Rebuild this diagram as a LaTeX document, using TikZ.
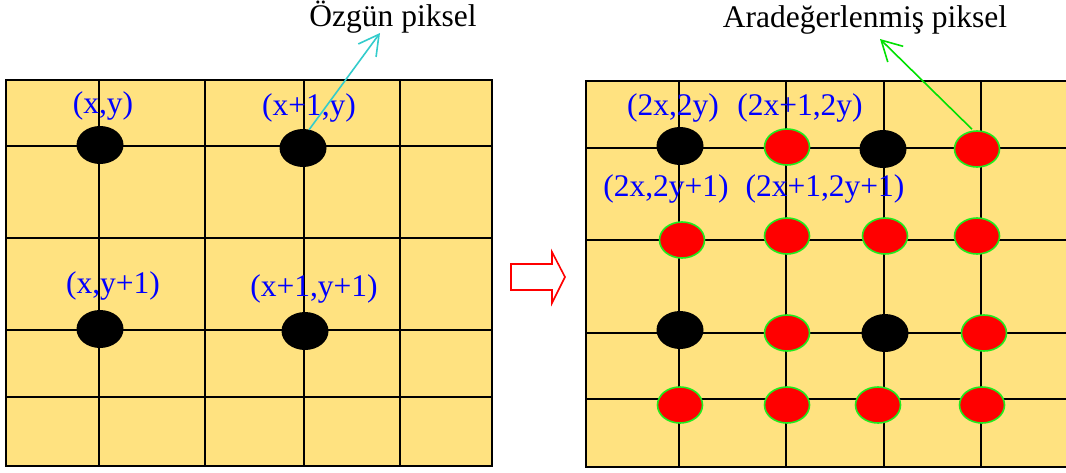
\documentclass[tikz,border=0pt]{standalone}
\usepackage{fontspec}
\setmainfont{Liberation Serif}
\usetikzlibrary{arrows.meta,shapes.geometric}
\definecolor{cellyellow}{RGB}{255,226,128}
\definecolor{lblblue}{RGB}{0,0,255}
\definecolor{cyanline}{RGB}{51,204,204}
\definecolor{greenline}{RGB}{0,225,0}
\definecolor{greenrim}{RGB}{30,235,30}
\definecolor{dotred}{RGB}{255,0,0}
\tikzset{
  gridline/.style={line width=1.6pt, black},
  gridframe/.style={line width=2pt, draw=black, fill=cellyellow},
  orig/.style={ellipse, fill=black, minimum width=47pt, minimum height=38pt, inner sep=0pt},
  interp/.style={ellipse, fill=dotred, draw=greenrim, line width=1.6pt, minimum width=45pt, minimum height=36pt, inner sep=0pt},
  coordlbl/.style={text=lblblue, font=\fontsize{31.5}{36}\selectfont, inner sep=0pt},
  toplbl/.style={text=black, font=\fontsize{31.5}{36}\selectfont, inner sep=0pt},
  pointer/.style={line width=1.6pt, -{Straight Barb[length=20pt,width=22pt]}},
}
\begin{document}
\begin{tikzpicture}[x=1pt,y=-1pt]
\useasboundingbox (0,0) rectangle (1066,472);
\fill[white] (0,0) rectangle (1066,472);
% ---------- left grid ----------
\draw[gridframe] (6,80) rectangle (492,466);
\foreach \x in {99,205,304,400} \draw[gridline] (\x,80) -- (\x,466);
\foreach \y in {146,238,330,397} \draw[gridline] (6,\y) -- (492,\y);
\node[orig] (L11) at (100,145) {};
\node[orig] (L21) at (303,148) {};
\node[orig] (L12) at (100,329) {};
\node[orig] (L22) at (305,331) {};
\node[coordlbl] (tL11) at (103,106) {(x,y)};
\node[coordlbl] (tL21) at (309,108) {(x+1,y)};
\node[coordlbl] (tL12) at (113,286) {(x,y+1)};
\node[coordlbl] (tL22) at (314,289) {(x+1,y+1)};
% ---------- arrow between ----------
\draw[dotred, line width=1.6pt, line join=miter] (511,264) -- (552,264) -- (552,252) -- (565,277) -- (552,303) -- (552,290) -- (511,290) -- cycle;
% ---------- right grid ----------
\draw[gridframe] (586,81) rectangle (1080,467);
\foreach \x in {679,786,884,981} \draw[gridline] (\x,81) -- (\x,467);
\foreach \y in {148,240,333,399} \draw[gridline] (586,\y) -- (1080,\y);
\node[orig]   (R11) at (680,146) {};
\node[interp] (R21) at (787,147) {};
\node[orig]   (R31) at (883,149) {};
\node[interp] (R41) at (977,149) {};
\node[interp] (R12) at (682,240) {};
\node[interp] (R22) at (787,236) {};
\node[interp] (R32) at (885,236) {};
\node[interp] (R42) at (977,236) {};
\node[orig]   (R13) at (680,330) {};
\node[interp] (R23) at (787,333) {};
\node[orig]   (R33) at (885,333) {};
\node[interp] (R43) at (984,333) {};
\node[interp] (R14) at (680,405) {};
\node[interp] (R24) at (787,405) {};
\node[interp] (R34) at (878,405) {};
\node[interp] (R44) at (982,405) {};
\node[coordlbl] (tR11) at (673,108) {(2x,2y)};
\node[coordlbl] (tR21) at (800,108) {(2x+1,2y)};
\node[coordlbl] (tR12) at (666,189) {(2x,2y+1)};
\node[coordlbl] (tR22) at (825,189) {(2x+1,2y+1)};
% ---------- top labels and pointers ----------
\node[toplbl] (ozgun) at (393,17) {Özgün piksel};
\node[toplbl] (arade) at (865,20) {Aradeğerlenmiş piksel};
\coordinate (ozguntip) at (380,33);
\coordinate (aradetip) at (880,39);
\path (L21.north) ++(6,1) coordinate (cstart);
\path (R41.north) ++(-5,-1) coordinate (gstart);
\draw[pointer, cyanline] (cstart) -- (ozguntip);
\draw[pointer, greenline] (gstart) -- (aradetip);
\end{tikzpicture}
\end{document}
